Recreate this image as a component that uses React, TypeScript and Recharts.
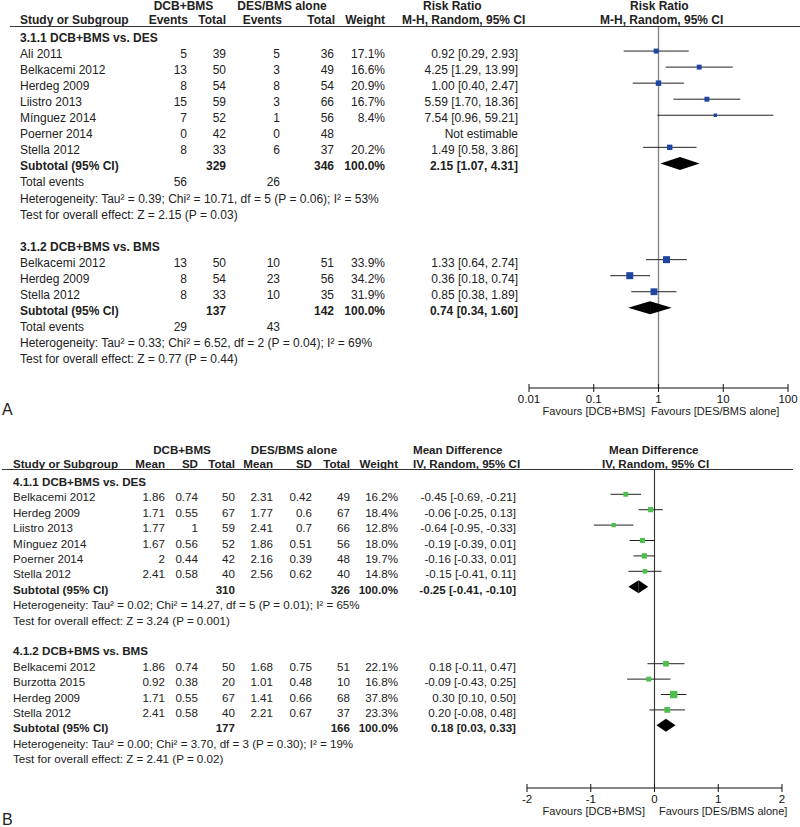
import React from "react";
import { ScatterChart, Scatter, XAxis, YAxis, ErrorBar, ReferenceLine } from "recharts";

const FONT = '"Liberation Sans", Arial, Helvetica, sans-serif';

// ---------- Panel A : Risk Ratio ----------
const aStudy1 = ["Ali 2011", "Belkacemi 2012", "Herdeg 2009", "Liistro 2013", "Mínguez 2014", "Poerner 2014", "Stella 2012"];
const aEv1 = [5, 13, 8, 15, 7, 0, 8];
const aTot1 = [39, 50, 54, 59, 52, 42, 33];
const aEv2 = [5, 3, 8, 3, 1, 0, 6];
const aTot2 = [36, 49, 54, 66, 56, 48, 37];
const aW1 = [17.1, 16.6, 20.9, 16.7, 8.4, null, 20.2];
const aRR1 = [0.92, 4.25, 1.0, 5.59, 7.54, null, 1.49];
const aLo1 = [0.29, 1.29, 0.4, 1.7, 0.96, null, 0.58];
const aHi1 = [2.93, 13.99, 2.47, 18.36, 59.21, null, 3.86];
const aSub1 = { tot1: 329, tot2: 346, ev1: 56, ev2: 26, est: 2.15, lo: 1.07, hi: 4.31 };
const aHet1 = "Heterogeneity: Tau² = 0.39; Chi² = 10.71, df = 5 (P = 0.06); I² = 53%";
const aTest1 = "Test for overall effect: Z = 2.15 (P = 0.03)";

const aStudy2 = ["Belkacemi 2012", "Herdeg 2009", "Stella 2012"];
const aEv1b = [13, 8, 8];
const aTot1b = [50, 54, 33];
const aEv2b = [10, 23, 10];
const aTot2b = [51, 56, 35];
const aW2 = [33.9, 34.2, 31.9];
const aRR2 = [1.33, 0.36, 0.85];
const aLo2 = [0.64, 0.18, 0.38];
const aHi2 = [2.74, 0.74, 1.89];
const aSub2 = { tot1: 137, tot2: 142, ev1: 29, ev2: 43, est: 0.74, lo: 0.34, hi: 1.6 };
const aHet2 = "Heterogeneity: Tau² = 0.33; Chi² = 6.52, df = 2 (P = 0.04); I² = 69%";
const aTest2 = "Test for overall effect: Z = 0.77 (P = 0.44)";
const aTicks = [0.01, 0.1, 1, 10, 100];

// ---------- Panel B : Mean Difference ----------
const bStudy1 = ["Belkacemi 2012", "Herdeg 2009", "Liistro 2013", "Mínguez 2014", "Poerner 2014", "Stella 2012"];
const bMean1 = [1.86, 1.71, 1.77, 1.67, 2, 2.41];
const bSd1 = [0.74, 0.55, 1, 0.56, 0.44, 0.58];
const bN1 = [50, 67, 59, 52, 42, 40];
const bMean2 = [2.31, 1.77, 2.41, 1.86, 2.16, 2.56];
const bSd2 = [0.42, 0.6, 0.7, 0.51, 0.39, 0.62];
const bN2 = [49, 67, 66, 56, 48, 40];
const bW1 = [16.2, 18.4, 12.8, 18.0, 19.7, 14.8];
const bMD1 = [-0.45, -0.06, -0.64, -0.19, -0.16, -0.15];
const bLo1 = [-0.69, -0.25, -0.95, -0.39, -0.33, -0.41];
const bHi1 = [-0.21, 0.13, -0.33, 0.01, 0.01, 0.11];
const bSub1 = { tot1: 310, tot2: 326, est: -0.25, lo: -0.41, hi: -0.1 };
const bHet1 = "Heterogeneity: Tau² = 0.02; Chi² = 14.27, df = 5 (P = 0.01); I² = 65%";
const bTest1 = "Test for overall effect: Z = 3.24 (P = 0.001)";

const bStudy2 = ["Belkacemi 2012", "Burzotta 2015", "Herdeg 2009", "Stella 2012"];
const bMean1b = [1.86, 0.92, 1.71, 2.41];
const bSd1b = [0.74, 0.38, 0.55, 0.58];
const bN1b = [50, 20, 67, 40];
const bMean2b = [1.68, 1.01, 1.41, 2.21];
const bSd2b = [0.75, 0.48, 0.66, 0.67];
const bN2b = [51, 10, 68, 37];
const bW2 = [22.1, 16.8, 37.8, 23.3];
const bMD2 = [0.18, -0.09, 0.3, 0.2];
const bLo2 = [-0.11, -0.43, 0.1, -0.08];
const bHi2 = [0.47, 0.25, 0.5, 0.48];
const bSub2 = { tot1: 177, tot2: 166, est: 0.18, lo: 0.03, hi: 0.33 };
const bHet2 = "Heterogeneity: Tau² = 0.00; Chi² = 3.70, df = 3 (P = 0.30); I² = 19%";
const bTest2 = "Test for overall effect: Z = 2.41 (P = 0.02)";
const bTicks = [-2, -1, 0, 1, 2];

// row index layout (first study row = 1 in each panel)
const aRows1 = [1, 2, 3, 4, 5, 6, 7];
const aRows2 = [14, 15, 16];
const bRows1 = [1, 2, 3, 4, 5, 6];
const bRows2 = [12, 13, 14, 15];

const ci = (e: number, l: number, h: number) => `${e.toFixed(2)} [${l.toFixed(2)}, ${h.toFixed(2)}]`;

const points = (est: (number | null)[], lo: (number | null)[], hi: (number | null)[], w: (number | null)[], rows: number[]) =>
  est
    .map((e, i) => (e == null ? null : { x: e, y: rows[i], w: w[i], err: [e - (lo[i] as number), (hi[i] as number) - e] }))
    .filter(Boolean) as any[];

const aPts = [...points(aRR1, aLo1, aHi1, aW1, aRows1), ...points(aRR2, aLo2, aHi2, aW2, aRows2)];
const bPts = [...points(bMD1, bLo1, bHi1, bW1, bRows1), ...points(bMD2, bLo2, bHi2, bW2, bRows2)];

const Square = (color: string) => (p: any) => {
  const s = 1.2 * Math.sqrt(p.payload.w);
  return <rect x={p.cx - s / 2} y={p.cy - s / 2} width={s} height={s} fill={color} />;
};

const LeftHalf = (p: any) => (
  <polygon points={`${p.x1},${p.y1} ${p.x2},${p.y2 - 6.5} ${p.x2},${p.y2 + 6.5}`} fill="#000" />
);
const RightHalf = (p: any) => (
  <polygon points={`${p.x1},${p.y1 - 6.5} ${p.x2},${p.y2} ${p.x1},${p.y1 + 6.5}`} fill="#000" />
);

const Diamond = (est: number, lo: number, hi: number, row: number, key: string) => [
  <ReferenceLine key={key + "l"} segment={[{ x: lo, y: row }, { x: est, y: row }]} shape={LeftHalf} ifOverflow="visible" />,
  <ReferenceLine key={key + "r"} segment={[{ x: est, y: row }, { x: hi, y: row }]} shape={RightHalf} ifOverflow="visible" />,
];

const AxisTick = (props: any) => {
  const { x, y, payload } = props;
  return (
    <g>
      <line x1={x} x2={x} y1={y - 11} y2={y - 3} stroke="#111" />
      <text x={x} y={y} dy="0.71em" textAnchor="middle" fontSize={11.5} fontFamily={FONT} fill="#111">
        {String(payload.value)}
      </text>
    </g>
  );
};

const T = ({ x, y, a = "start", b = false, s = 12, children }: any) => (
  <text x={x} y={y} textAnchor={a} fontWeight={b ? "bold" : "normal"} fontSize={s} fontFamily={FONT} fill="#222">
    {children}
  </text>
);

// baselines of table rows
const aY = (k: number) => 27 + (k + 0.5) * 16.05 + 7;
const bY = (k: number) => 478.9 + k * 15.4 + 7;

function TableA() {
  const rowsA = (names: string[], ev1: number[], t1: number[], ev2: number[], t2: number[], w: (number | null)[], e: (number | null)[], lo: (number | null)[], hi: (number | null)[], rows: number[]) =>
    names.map((n, i) => {
      const y = aY(rows[i]);
      return (
        <g key={n + rows[i]}>
          <T x={20} y={y}>{n}</T>
          <T x={187} y={y} a="end">{ev1[i]}</T>
          <T x={226} y={y} a="end">{t1[i]}</T>
          <T x={280} y={y} a="end">{ev2[i]}</T>
          <T x={334} y={y} a="end">{t2[i]}</T>
          <T x={385} y={y} a="end">{w[i] == null ? "" : (w[i] as number).toFixed(1) + "%"}</T>
          <T x={518} y={y} a="end">{e[i] == null ? "Not estimable" : ci(e[i] as number, lo[i] as number, hi[i] as number)}</T>
        </g>
      );
    });
  const sub = (s: any, k: number) => (
    <g>
      <T x={20} y={aY(k)} b>Subtotal (95% CI)</T>
      <T x={226} y={aY(k)} a="end" b>{s.tot1}</T>
      <T x={334} y={aY(k)} a="end" b>{s.tot2}</T>
      <T x={385} y={aY(k)} a="end" b>100.0%</T>
      <T x={518} y={aY(k)} a="end" b>{ci(s.est, s.lo, s.hi)}</T>
      <T x={20} y={aY(k + 1)}>Total events</T>
      <T x={187} y={aY(k + 1)} a="end">{s.ev1}</T>
      <T x={280} y={aY(k + 1)} a="end">{s.ev2}</T>
    </g>
  );
  return (
    <g>
      <T x={183.5} y={10} a="middle" b>DCB+BMS</T>
      <T x={282} y={10} a="middle" b>DES/BMS alone</T>
      <T x={423} y={10} b>Risk Ratio</T>
      <T x={630} y={10} b>Risk Ratio</T>
      <T x={20} y={24} b>Study or Subgroup</T>
      <T x={188} y={24} a="end" b>Events</T>
      <T x={226} y={24} a="end" b>Total</T>
      <T x={282} y={24} a="end" b>Events</T>
      <T x={335} y={24} a="end" b>Total</T>
      <T x={385} y={24} a="end" b>Weight</T>
      <T x={402} y={24} b>M-H, Random, 95% CI</T>
      <T x={600} y={24} b>M-H, Random, 95% CI</T>
      <line x1={10} x2={800} y1={26.5} y2={26.5} stroke="#333" strokeWidth={1.2} />
      <T x={20} y={aY(0)} b>3.1.1 DCB+BMS vs. DES</T>
      {rowsA(aStudy1, aEv1, aTot1, aEv2, aTot2, aW1, aRR1, aLo1, aHi1, aRows1)}
      {sub(aSub1, 8)}
      <T x={20} y={aY(10)}>{aHet1}</T>
      <T x={20} y={aY(11)}>{aTest1}</T>
      <T x={20} y={aY(13)} b>3.1.2 DCB+BMS vs. BMS</T>
      {rowsA(aStudy2, aEv1b, aTot1b, aEv2b, aTot2b, aW2, aRR2, aLo2, aHi2, aRows2)}
      {sub(aSub2, 17)}
      <T x={20} y={aY(19)}>{aHet2}</T>
      <T x={20} y={aY(20)}>{aTest2}</T>
      <T x={645} y={415} a="end" s={11}>Favours [DCB+BMS]</T>
      <T x={651} y={415} s={11}>Favours [DES/BMS alone]</T>
      <T x={2} y={415} s={16}>A</T>
    </g>
  );
}

function TableB() {
  const s = 11.6;
  const rowsB = (names: string[], m1: number[], sd1: number[], n1: number[], m2: number[], sd2: number[], n2: number[], w: number[], e: number[], lo: number[], hi: number[], rows: number[]) =>
    names.map((n, i) => {
      const y = bY(rows[i]);
      return (
        <g key={n + rows[i]}>
          <T x={13} y={y} s={s}>{n}</T>
          <T x={165} y={y} a="end" s={s}>{String(m1[i])}</T>
          <T x={198} y={y} a="end" s={s}>{String(sd1[i])}</T>
          <T x={235} y={y} a="end" s={s}>{n1[i]}</T>
          <T x={273} y={y} a="end" s={s}>{String(m2[i])}</T>
          <T x={312} y={y} a="end" s={s}>{String(sd2[i])}</T>
          <T x={350} y={y} a="end" s={s}>{n2[i]}</T>
          <T x={398} y={y} a="end" s={s}>{w[i].toFixed(1) + "%"}</T>
          <T x={516} y={y} a="end" s={s}>{ci(e[i], lo[i], hi[i])}</T>
        </g>
      );
    });
  const sub = (d: any, k: number) => (
    <g>
      <T x={13} y={bY(k)} b s={s}>Subtotal (95% CI)</T>
      <T x={235} y={bY(k)} a="end" b s={s}>{d.tot1}</T>
      <T x={350} y={bY(k)} a="end" b s={s}>{d.tot2}</T>
      <T x={398} y={bY(k)} a="end" b s={s}>100.0%</T>
      <T x={516} y={bY(k)} a="end" b s={s}>{ci(d.est, d.lo, d.hi)}</T>
    </g>
  );
  return (
    <g>
      <T x={182} y={454} a="middle" b s={s}>DCB+BMS</T>
      <T x={294} y={454} a="middle" b s={s}>DES/BMS alone</T>
      <T x={413} y={454} b s={s}>Mean Difference</T>
      <T x={609} y={454} b s={s}>Mean Difference</T>
      <T x={13} y={468} b s={s}>Study or Subgroup</T>
      <T x={165} y={468} a="end" b s={s}>Mean</T>
      <T x={198} y={468} a="end" b s={s}>SD</T>
      <T x={235} y={468} a="end" b s={s}>Total</T>
      <T x={273} y={468} a="end" b s={s}>Mean</T>
      <T x={312} y={468} a="end" b s={s}>SD</T>
      <T x={350} y={468} a="end" b s={s}>Total</T>
      <T x={398} y={468} a="end" b s={s}>Weight</T>
      <T x={413} y={468} b s={s}>IV, Random, 95% CI</T>
      <T x={602} y={468} b s={s}>IV, Random, 95% CI</T>
      <line x1={2} x2={793} y1={469.5} y2={469.5} stroke="#333" strokeWidth={1.2} />
      <T x={13} y={bY(0)} b s={s}>4.1.1 DCB+BMS vs. DES</T>
      {rowsB(bStudy1, bMean1, bSd1, bN1, bMean2, bSd2, bN2, bW1, bMD1, bLo1, bHi1, bRows1)}
      {sub(bSub1, 7)}
      <T x={13} y={bY(8)} s={s}>{bHet1}</T>
      <T x={13} y={bY(9)} s={s}>{bTest1}</T>
      <T x={13} y={bY(11)} b s={s}>4.1.2 DCB+BMS vs. BMS</T>
      {rowsB(bStudy2, bMean1b, bSd1b, bN1b, bMean2b, bSd2b, bN2b, bW2, bMD2, bLo2, bHi2, bRows2)}
      {sub(bSub2, 16)}
      <T x={13} y={bY(17)} s={s}>{bHet2}</T>
      <T x={13} y={bY(18)} s={s}>{bTest2}</T>
      <T x={645} y={815} a="end" s={11}>Favours [DCB+BMS]</T>
      <T x={659} y={815} s={11}>Favours [DES/BMS alone]</T>
      <T x={2} y={825} s={16}>B</T>
    </g>
  );
}

export default function App() {
  return (
    <div style={{ position: "absolute", left: 0, top: 0, width: 800, height: 827, background: "#fff", overflow: "hidden" }}>
      <div style={{ position: "absolute", left: 0, top: 0 }}>
        <ScatterChart width={800} height={420} margin={{ top: 27, right: 12, bottom: 2, left: 529 }}>
          <XAxis
            type="number"
            dataKey="x"
            scale="log"
            domain={[0.01, 100]}
            ticks={aTicks}
            allowDataOverflow
            height={30}
            tickLine={false}
            tickSize={4}
            tickMargin={3}
            axisLine={{ stroke: "#111" }}
            tick={<AxisTick />}
          />
          <YAxis type="number" dataKey="y" domain={[-0.5, 22]} reversed hide allowDataOverflow />
          <ReferenceLine x={1} stroke="#888" strokeWidth={1.4} />
          <Scatter data={aPts} shape={Square("#1f45a3")} isAnimationActive={false}>
            <ErrorBar dataKey="err" direction="x" width={0} stroke="#222" strokeWidth={1} />
          </Scatter>
          {Diamond(aSub1.est, aSub1.lo, aSub1.hi, 8, "a1")}
          {Diamond(aSub2.est, aSub2.lo, aSub2.hi, 17, "a2")}
        </ScatterChart>
      </div>
      <div style={{ position: "absolute", left: 0, top: 430 }}>
        <ScatterChart width={800} height={397} margin={{ top: 39.5, right: 18, bottom: 9, left: 527 }}>
          <XAxis
            type="number"
            dataKey="x"
            domain={[-2, 2]}
            ticks={bTicks}
            allowDataOverflow
            height={30}
            tickLine={false}
            tickSize={4}
            tickMargin={3}
            axisLine={{ stroke: "#111" }}
            tick={<AxisTick />}
          />
          <YAxis type="number" dataKey="y" domain={[-0.61, 20.07]} reversed hide allowDataOverflow />
          <ReferenceLine x={0} stroke="#333" strokeWidth={1.1} />
          <Scatter data={bPts} shape={Square("#4cbf4c")} isAnimationActive={false}>
            <ErrorBar dataKey="err" direction="x" width={0} stroke="#222" strokeWidth={1} />
          </Scatter>
          {Diamond(bSub1.est, bSub1.lo, bSub1.hi, 7, "b1")}
          {Diamond(bSub2.est, bSub2.lo, bSub2.hi, 16, "b2")}
        </ScatterChart>
      </div>
      <svg width={800} height={827} style={{ position: "absolute", left: 0, top: 0, pointerEvents: "none" }}>
        <TableA />
        <TableB />
      </svg>
    </div>
  );
}
